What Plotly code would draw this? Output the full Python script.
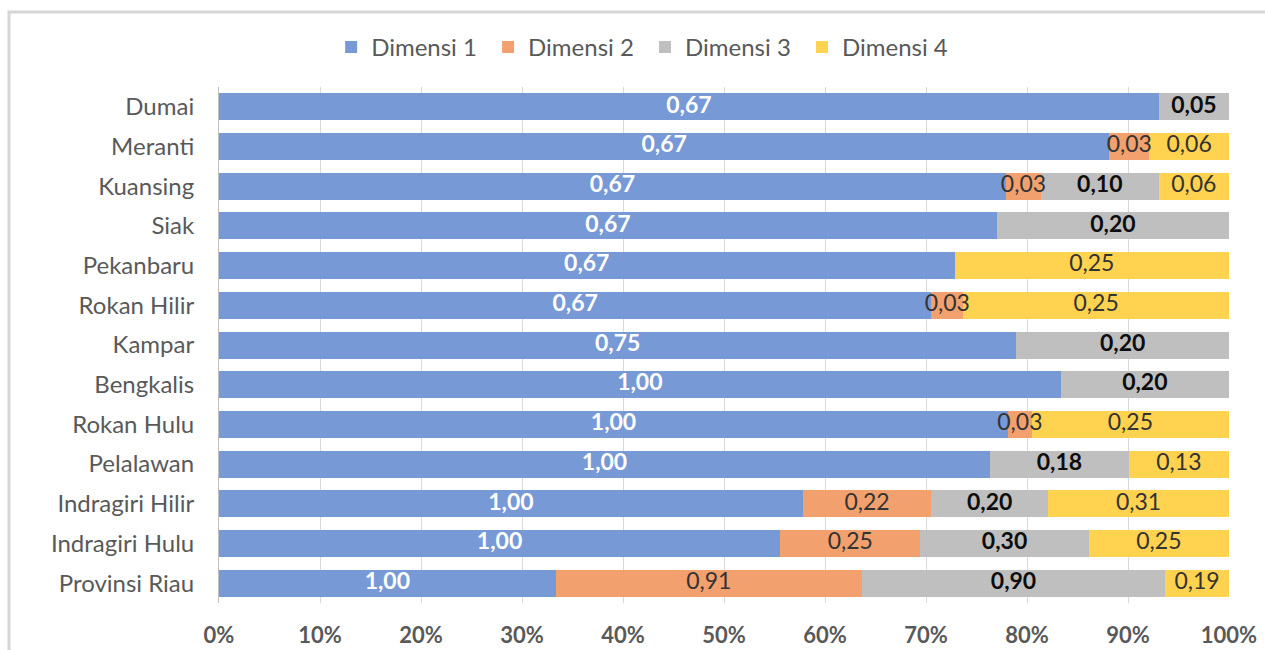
import plotly.graph_objects as go

categories = ["Dumai", "Meranti", "Kuansing", "Siak", "Pekanbaru", "Rokan Hilir", "Kampar",
              "Bengkalis", "Rokan Hulu", "Pelalawan", "Indragiri Hilir", "Indragiri Hulu", "Provinsi Riau"]
dimensi_1 = [0.67, 0.67, 0.67, 0.67, 0.67, 0.67, 0.75, 1.00, 1.00, 1.00, 1.00, 1.00, 1.00]
dimensi_2 = [None, 0.03, 0.03, None, None, 0.03, None, None, 0.03, None, 0.22, 0.25, 0.91]
dimensi_3 = [0.05, None, 0.10, 0.20, None, None, 0.20, 0.20, None, 0.18, 0.20, 0.30, 0.90]
dimensi_4 = [None, 0.06, 0.06, None, 0.25, 0.25, None, None, 0.25, 0.13, 0.31, 0.25, 0.19]
series_names = ["Dimensi 1", "Dimensi 2", "Dimensi 3", "Dimensi 4"]
x_ticks = [0, 10, 20, 30, 40, 50, 60, 70, 80, 90, 100]

colors = ["#7799D6", "#F1A06E", "#BFBFBF", "#FFD24F"]
text_colors = ["#FFFFFF", "#333333", "#0D0D0D", "#333333"]
text_weights = ["bold", "normal", "bold", "normal"]
FONT = "Lato"
BAR_TXT = 23


def fmt(v):
    return "" if v is None else f"{v:.2f}".replace(".", ",")


series = [dimensi_1, dimensi_2, dimensi_3, dimensi_4]
fig = go.Figure()
for name, vals, c in zip(series_names, series, colors):
    fig.add_trace(go.Bar(
        y=categories, x=vals, name=name + "\u00a0", orientation="h",
        marker=dict(color=c, line=dict(width=0)), hoverinfo="skip",
    ))

# Segment labels drawn on top (centre of each normalised segment), allowed to overflow
totals = [sum(v for v in row if v is not None) for row in zip(*series)]
cum = [0.0] * len(categories)
for vals, tc, tw in zip(series, text_colors, text_weights):
    mids = []
    for j, v in enumerate(vals):
        if v is None:
            mids.append(None)
        else:
            mids.append((cum[j] + v / 2) / totals[j] * 100)
            cum[j] += v
    fig.add_trace(go.Scatter(
        x=mids, y=categories, mode="text", text=[fmt(v) for v in vals],
        textposition="middle center",
        textfont=dict(family=FONT, size=BAR_TXT, color=tc, weight=tw),
        showlegend=False, hoverinfo="skip", cliponaxis=False,
    ))

n = len(categories)
fig.update_layout(
    barmode="stack", barnorm="percent", bargap=0.32,
    width=1265, height=650,
    margin=dict(l=219, r=36, t=87, b=47, autoexpand=False),
    paper_bgcolor="white", plot_bgcolor="white",
    font=dict(family=FONT, color="#595959"),
    legend=dict(orientation="h", xref="container", x=0.51, xanchor="center",
                yref="container", y=0.927, yanchor="middle",
                font=dict(size=24, color="#595959"), itemwidth=30, traceorder="normal"),
    xaxis=dict(range=[0, 100], tickvals=x_ticks, ticktext=[f"{t}%" for t in x_ticks],
               showgrid=True, gridcolor="#D9D9D9", gridwidth=1, zeroline=False,
               ticks="outside", ticklen=13, tickcolor="rgba(0,0,0,0)", automargin=False,
               tickfont=dict(size=22, color="#595959", weight="bold"), fixedrange=True),
    yaxis=dict(categoryorder="array", categoryarray=categories, range=[n - 0.5, -0.5],
               showline=True, linecolor="#BFBFBF", linewidth=1, automargin=False,
               ticks="outside", ticklen=19, tickcolor="rgba(0,0,0,0)",
               tickfont=dict(size=24, color="#595959")),
    shapes=[dict(type="rect", xref="paper", yref="paper",
                 x0=(9 - 219) / 1010, x1=(1320 - 219) / 1010,
                 y0=-0.3, y1=(650 - 47 - 12) / 516,
                 line=dict(color="#D6D6D6", width=3), fillcolor="rgba(0,0,0,0)", layer="below")],
)

fig.write_html("out.html")
